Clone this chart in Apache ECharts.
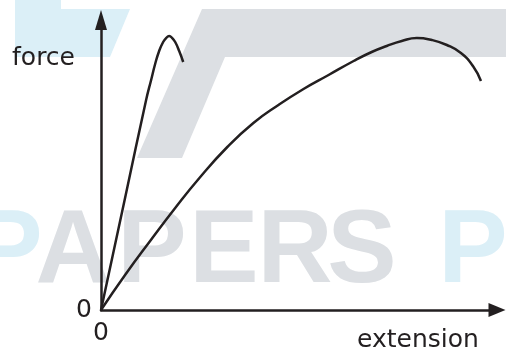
<!DOCTYPE html>
<html>
<head>
<meta charset="utf-8">
<script src="https://cdn.jsdelivr.net/npm/echarts@6/dist/echarts.min.js"></script>
<style>
  html, body { margin: 0; padding: 0; background: #ffffff; }
  #chart { width: 506px; height: 352px; }
</style>
</head>
<body>
<div id="chart"></div>
<script>
  // values (extension / force, arbitrary units)
  var stiffExt = [0, 24, 45, 50, 54, 58, 62, 65, 68, 71, 74, 78, 82];
  var stiffForce = [0, 112, 210, 230, 246, 259, 268, 272, 274, 272, 268, 259, 248];
  var softExt = [0, 24, 49, 74, 99, 126, 152, 177, 202, 227, 252, 270, 285, 300, 315, 330, 345, 359, 371, 379];
  var softForce = [0, 35, 69, 102, 133, 163, 187, 205, 221, 235, 249, 258, 264, 269, 272, 270, 265, 257, 244, 229];
  var extMax = 395;
  var forceMax = 290;

  var ink = '#231f20';
  var wmGrey = '#dcdfe3';
  var wmBlue = '#dbeff7';

  function pairs(xs, ys) {
    return xs.map(function (x, i) { return [x, ys[i]]; });
  }

  // watermark letters behind the chart
  var letters = [
    { t: 'P', x: 8, c: wmBlue },
    { t: 'A', x: 73, c: wmGrey },
    { t: 'P', x: 152, c: wmGrey },
    { t: 'E', x: 224, c: wmGrey },
    { t: 'R', x: 295, c: wmGrey },
    { t: 'S', x: 362, c: wmGrey },
    { t: 'P', x: 473, c: wmBlue }
  ];

  var graphics = [
    {
      type: 'polygon', z: -10, silent: true,
      shape: { points: [[15, 0], [61, 0], [61, 9], [130, 9], [110, 57], [15, 57]] },
      style: { fill: wmBlue }
    },
    {
      type: 'polygon', z: -10, silent: true,
      shape: { points: [[202, 9], [506, 9], [506, 57], [225, 57], [182, 158], [137, 158]] },
      style: { fill: wmGrey }
    }
  ];
  letters.forEach(function (l) {
    graphics.push({
      type: 'text', z: -10, silent: true,
      style: {
        text: l.t, x: l.x, y: 253, fill: l.c,
        fontSize: 104, fontWeight: 'bold', fontFamily: 'Liberation Sans',
        align: 'center', verticalAlign: 'middle'
      }
    });
  });

  var chart = echarts.init(document.getElementById('chart'), null, { renderer: 'canvas' });
  chart.setOption({
    backgroundColor: '#ffffff',
    animation: false,
    graphic: graphics,
    grid: { left: 101, right: 9, top: 20, bottom: 42, outerBoundsMode: 'none', containLabel: false },
    xAxis: {
      type: 'value',
      min: 0,
      max: extMax,
      interval: extMax,
      name: 'extension',
      nameLocation: 'end',
      nameGap: -79,
      nameTextStyle: {
        color: ink, fontSize: 25, fontFamily: 'DejaVu Sans',
        align: 'center', verticalAlign: 'top', lineHeight: 60
      },
      axisLine: {
        show: true,
        symbol: ['none', 'triangle'],
        symbolSize: [14, 17],
        lineStyle: { color: ink, width: 2.5 }
      },
      axisTick: { show: false },
      splitLine: { show: false },
      axisLabel: {
        showMaxLabel: false,
        margin: 11,
        color: ink, fontSize: 25, fontFamily: 'DejaVu Sans'
      }
    },
    yAxis: {
      type: 'value',
      min: 0,
      max: forceMax,
      interval: forceMax,
      name: 'force',
      nameLocation: 'end',
      nameGap: -38,
      nameTextStyle: {
        color: ink, fontSize: 25, fontFamily: 'DejaVu Sans',
        align: 'right', verticalAlign: 'middle', padding: [0, 26, 0, 0]
      },
      axisLine: {
        show: true,
        symbol: ['none', 'triangle'],
        symbolSize: [12, 20],
        lineStyle: { color: ink, width: 2.5 }
      },
      axisTick: { show: false },
      splitLine: { show: false },
      axisLabel: {
        showMaxLabel: false,
        margin: 9,
        color: ink, fontSize: 25, fontFamily: 'DejaVu Sans'
      }
    },
    series: [
      {
        name: 'stiff',
        type: 'line',
        data: pairs(stiffExt, stiffForce),
        smooth: 0.5,
        showSymbol: false,
        lineStyle: { color: ink, width: 2.5 }
      },
      {
        name: 'soft',
        type: 'line',
        data: pairs(softExt, softForce),
        smooth: 0.5,
        showSymbol: false,
        lineStyle: { color: ink, width: 2.5 }
      }
    ]
  });
</script>
</body>
</html>
